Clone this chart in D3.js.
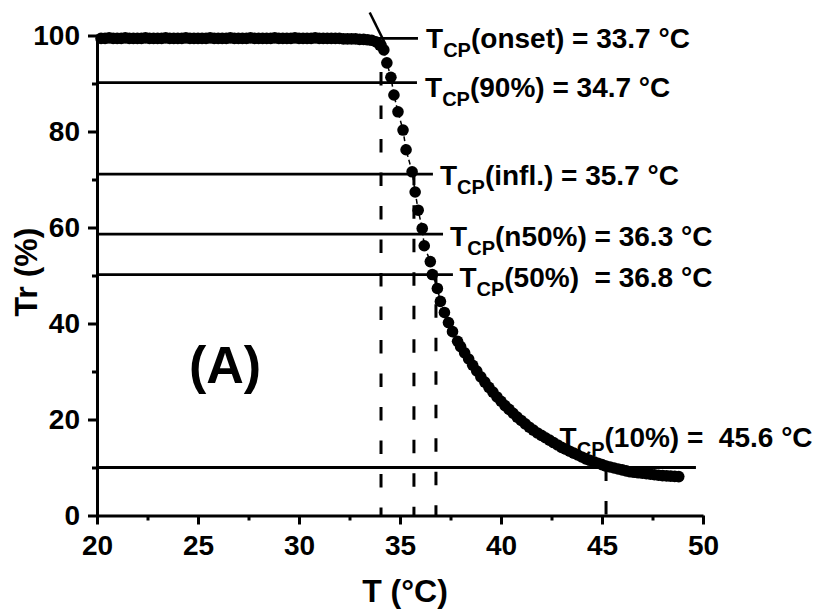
<!DOCTYPE html>
<html><head><meta charset="utf-8">
<script src="https://cdn.jsdelivr.net/npm/d3@7"></script>
<style>
body{margin:0;background:#fff}
text{font-family:"Liberation Sans",Arial,sans-serif;font-weight:bold;fill:#000;white-space:pre}
</style>
</head><body><svg id="c" width="816" height="610"></svg>
<script>
// ---- data ----
const temperature = [
20.2,20.4,20.6,20.8,21.0,21.2,21.4,21.6,21.8,22.0,
22.2,22.4,22.6,22.8,23.0,23.2,23.4,23.6,23.8,24.0,
24.2,24.4,24.6,24.8,25.0,25.2,25.4,25.6,25.8,26.0,
26.2,26.4,26.6,26.8,27.0,27.2,27.4,27.6,27.8,28.0,
28.2,28.4,28.6,28.8,29.0,29.2,29.4,29.6,29.8,30.0,
30.2,30.4,30.6,30.8,31.0,31.2,31.4,31.6,31.8,32.0,
32.2,32.4,32.6,32.8,33.0,33.2,33.4,
33.6,33.8,34.0,34.2,34.35,34.55,34.7,34.9,35.15,35.3,35.6,35.75,35.9,36.1,36.2,36.5,36.6,36.85,37.0,37.2,37.4,37.6,37.85,
38.0,38.2,38.4,38.6,38.8,39.0,39.2,39.4,39.6,39.8,
40.0,40.2,40.4,40.6,40.8,41.0,41.2,41.4,41.6,41.8,
42.0,42.2,42.4,42.6,42.8,43.0,43.2,43.4,43.6,43.8,
44.0,44.2,44.4,44.6,44.8,45.0,45.2,45.4,45.6,45.8,
46.0,46.2,46.4,46.6,46.8,47.0,47.2,47.4,47.6,47.8,
48.0,48.2,48.4,48.6,48.8];
const transmittance = [
99.4,99.4,99.5,99.4,99.4,99.4,99.5,99.4,99.4,99.4,
99.4,99.5,99.4,99.4,99.4,99.4,99.5,99.4,99.4,99.4,
99.4,99.5,99.4,99.4,99.4,99.4,99.4,99.5,99.4,99.4,
99.4,99.4,99.5,99.4,99.4,99.4,99.4,99.5,99.4,99.4,
99.4,99.4,99.4,99.5,99.4,99.4,99.4,99.4,99.5,99.4,
99.4,99.4,99.4,99.5,99.4,99.4,99.4,99.4,99.4,99.4,
99.3,99.3,99.3,99.3,99.2,99.2,99.1,
99.0,98.7,98.0,97.0,94.3,91.3,87.6,84.1,80.3,76.2,71.6,67.4,63.6,59.8,56.2,52.9,50.2,47.3,44.6,42.3,40.2,38.3,36.3,
35.2,33.9,32.6,31.3,30.1,28.9,27.8,26.7,25.7,24.7,
23.8,22.9,22.1,21.3,20.5,19.8,19.1,18.4,17.8,17.2,
16.7,16.2,15.7,15.2,14.7,14.2,13.8,13.4,13.0,12.6,
12.2,11.8,11.5,11.2,10.9,10.6,10.3,10.1,9.9,9.7,
9.5,9.3,9.1,9.0,8.9,8.8,8.7,8.6,8.5,8.4,
8.3,8.25,8.2,8.15,8.1];

const xTicks = [20,25,30,35,40,45,50];
const xMinorTicks = [22.5,27.5,32.5,37.5,42.5,47.5];
const yTicks = [0,20,40,60,80,100];
const yMinorTicks = [10,30,50,70,90];

// horizontal reference levels (Tr %) and where each line ends (°C)
const levelValues = [99.4, 90.2, 71.1, 58.6, 50.2, 10.0];
const levelEnds   = [35.89, 35.84, 36.63, 37.13, 37.62, 49.65];
// vertical dashed markers (°C) and their top (Tr %)
const markerTemps = [34.06, 35.69, 36.78, 45.2];
const markerTops  = [92.4, 71.6, 51.0, 10.0];
// onset tangent segment
const tangentT  = [33.5, 34.3];
const tangentTr = [104.8, 98.0];
// annotation texts
const labelTexts = ["(onset) = 33.7 °C","(90%) = 34.7 °C","(infl.) = 35.7 °C","(n50%) = 36.3 °C","(50%)  = 36.8 °C","(10%) =  45.6 °C"];
const labelT  = [36.29, 36.24, 36.98, 37.48, 37.94, 42.9];
const labelTr = [97.33, 87.25, 68.85, 56.15, 47.67, 14.33];

// ---- drawing ----
const svg = d3.select("#c");
const x = d3.scaleLinear().domain([20,50]).range([97,703]);
const y = d3.scaleLinear().domain([0,100]).range([515.5,35.5]);

// horizontal lines
svg.append("g").selectAll("line").data(levelValues).join("line")
  .attr("x1", x(20)).attr("x2", (d,i)=>x(levelEnds[i]))
  .attr("y1", d=>y(d)).attr("y2", d=>y(d))
  .attr("stroke","#000").attr("stroke-width",2.8);

// vertical dashed lines
svg.append("g").selectAll("line").data(markerTemps).join("line")
  .attr("x1", d=>x(d)).attr("x2", d=>x(d))
  .attr("y1", (d,i)=>y(markerTops[i])).attr("y2", y(-0.3))
  .attr("stroke","#000").attr("stroke-width",3)
  .attr("stroke-dasharray","13.5,20");

// tangent
svg.append("line")
  .attr("x1", x(tangentT[0])).attr("y1", y(tangentTr[0]))
  .attr("x2", x(tangentT[1])).attr("y2", y(tangentTr[1]))
  .attr("stroke","#000").attr("stroke-width",2.5);

// data connecting line (dash)
const pts = temperature.map((t,i)=>[t, transmittance[i]]);
svg.append("path").datum(pts)
  .attr("d", d3.line().x(d=>x(d[0])).y(d=>y(d[1])))
  .attr("fill","none").attr("stroke","#000").attr("stroke-width",1.5)
  .attr("stroke-dasharray","5,3");

// points
svg.append("g").selectAll("circle").data(pts).join("circle")
  .attr("cx", d=>x(d[0])).attr("cy", d=>y(d[1])).attr("r",5.8)
  .attr("fill","#000");

// axes
function styleAxis(g){
  g.selectAll("path.domain").attr("stroke","#000").attr("stroke-width",3);
  g.selectAll(".tick line").attr("stroke","#000").attr("stroke-width",3);
  g.selectAll(".tick text").attr("font-size",28).attr("font-family",null);
}
const gx = svg.append("g").attr("transform",`translate(0,${y(0)})`)
  .call(d3.axisBottom(x).tickValues(xTicks).tickSize(9).tickSizeOuter(0).tickPadding(11).tickFormat(d3.format("d")));
styleAxis(gx);
const gxm = svg.append("g").attr("transform",`translate(0,${y(0)})`)
  .call(d3.axisBottom(x).tickValues(xMinorTicks).tickSize(5).tickSizeOuter(0).tickFormat(""));
styleAxis(gxm); gxm.select("path.domain").remove();

const gy = svg.append("g").attr("transform",`translate(${x(20)},0)`)
  .call(d3.axisLeft(y).tickValues(yTicks).tickSize(9).tickSizeOuter(0).tickPadding(8).tickFormat(d3.format("d")));
styleAxis(gy);
const gym = svg.append("g").attr("transform",`translate(${x(20)},0)`)
  .call(d3.axisLeft(y).tickValues(yMinorTicks).tickSize(5).tickSizeOuter(0).tickFormat(""));
styleAxis(gym); gym.select("path.domain").remove();

// axis titles
svg.append("text").attr("x",405).attr("y",602).attr("text-anchor","middle")
  .attr("font-size",32).text("T (°C)");
svg.append("text").attr("transform","translate(37,272) rotate(-90)").attr("text-anchor","middle")
  .attr("font-size",32).text("Tr (%)");

// panel label
svg.append("text").attr("x",189).attr("y",383).attr("font-size",52).text("(A)");

// annotations
labelTexts.forEach((s,i)=>{
  const t = svg.append("text").attr("x", x(labelT[i])).attr("y", y(labelTr[i])).attr("font-size",28);
  t.append("tspan").text("T");
  t.append("tspan").attr("font-size",20).attr("dy",9).text("CP");
  t.append("tspan").attr("font-size",28).attr("dy",-9).text(s);
});
</script>
</body></html>
